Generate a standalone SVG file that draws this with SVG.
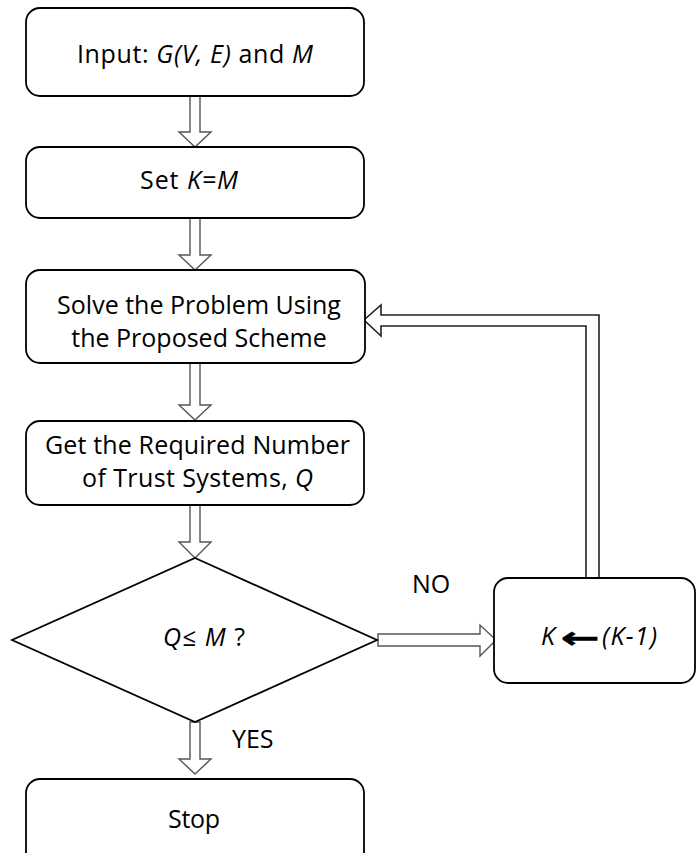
<svg xmlns="http://www.w3.org/2000/svg" width="696" height="853" viewBox="0 0 696 853">
  <style>
    .box { fill: #fff; stroke: #000; stroke-width: 1.8; }
    .flow { fill: #fff; stroke: #555; stroke-width: 1.4; stroke-linejoin: miter; }
    .loop { fill: none; stroke: #222; stroke-width: 1.6; }
    text { font-family: "Open Sans", "Lato", "DejaVu Sans", sans-serif; font-size: 25px; fill: #000; }
    .c { text-anchor: middle; }
    .i { font-style: italic; }
    .sym { font-family: "DejaVu Sans", sans-serif; font-weight: bold; font-size: 30px; }
  </style>
  <rect width="696" height="853" fill="#fff"/>

  <!-- connectors: hollow block arrows -->
  <g id="connectors">
    <path class="flow" d="M190,96 V132 H179 L195,147 L211,132 H200 V96"/>
    <path class="flow" d="M190,218 V255 H179 L195,270 L211,255 H200 V218"/>
    <path class="flow" d="M190,363 V405 H179 L195,420 L211,405 H200 V363"/>
    <path class="flow" d="M190,505 V542 H179 L195,558 L211,542 H200 V505"/>
    <path class="flow" d="M190,722 V759 H179 L195,774 L211,759 H200 V722 Z"/>
    <path class="flow" d="M378,634 H480 V625 L496,640 L480,656 V646 H378 Z"/>
    <path class="loop" d="M586,578 V326 H381 V336 L364,320 L381,305 V315 H599 V578"/>
  </g>

  <g id="start">
    <rect class="box" x="26" y="8" width="338" height="88" rx="14"/>
    <text x="77" y="63" textLength="236">Input: <tspan class="i">G(V, E)</tspan> and <tspan class="i">M</tspan></text>
  </g>

  <g id="set-k">
    <rect class="box" x="26" y="147" width="338" height="71" rx="14"/>
    <text x="140" y="189" textLength="98">Set <tspan class="i">K=M</tspan></text>
  </g>

  <g id="solve">
    <rect class="box" x="26" y="270" width="339" height="93" rx="14"/>
    <text class="c" x="199" y="314">Solve the Problem Using</text>
    <text class="c" x="199" y="347">the Proposed Scheme</text>
  </g>

  <g id="count">
    <rect class="box" x="26" y="421" width="338" height="84" rx="14"/>
    <text x="45" y="454" textLength="305">Get the Required Number</text>
    <text x="82" y="487" textLength="231">of Trust Systems, <tspan class="i">Q</tspan></text>
  </g>

  <g id="check">
    <polygon class="box" points="195,558 377,640 195,722 12,640"/>
    <text x="163" y="646" textLength="82"><tspan class="i">Q≤ M</tspan> ?</text>
  </g>

  <g id="decrement">
    <rect class="box" x="494" y="578" width="201" height="105" rx="14"/>
    <text class="i" x="541" y="645">K</text>
    <text class="sym" x="561" y="648" transform="translate(561,0) scale(1.55,1) translate(-561,0)" stroke="#000" stroke-width="0.5">←</text>
    <text class="i" x="602" y="645" textLength="55">(K-1)</text>
  </g>

  <g id="stop">
    <rect class="box" x="26" y="779" width="338" height="90" rx="14"/>
    <text x="168" y="828" textLength="52">Stop</text>
  </g>

  <g id="labels">
    <text x="412" y="593">NO</text>
    <text x="232" y="748">YES</text>
  </g>
</svg>
